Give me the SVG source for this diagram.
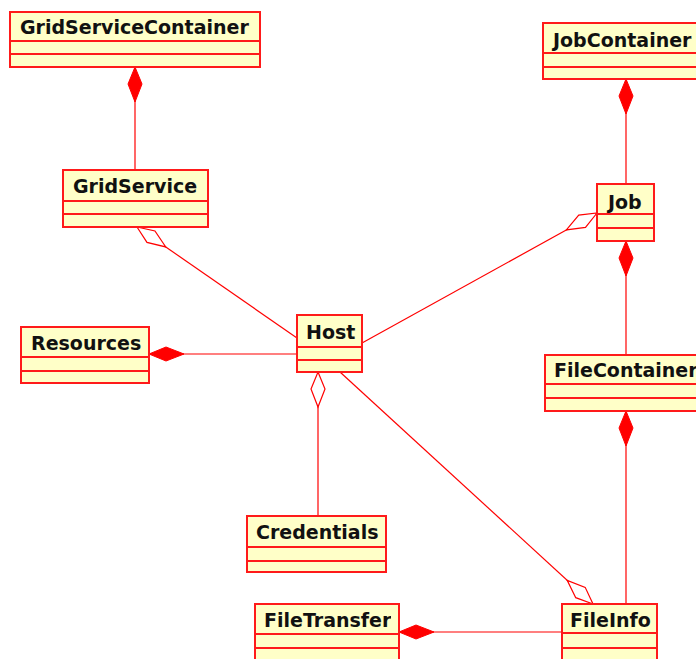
<svg xmlns="http://www.w3.org/2000/svg" width="696" height="659" viewBox="0 0 696 659">
<style>
.box{fill:#FFFFC8;stroke:#FF1A1A;stroke-width:2}
.div{stroke:#FF1A1A;stroke-width:2;fill:none}
.lbl{font-family:"DejaVu Sans",sans-serif;font-weight:bold;font-size:19px;fill:#111}
.con{stroke:#FF0000;stroke-width:1.2;fill:none}
</style>
<defs>
<marker id="comp" markerUnits="userSpaceOnUse" orient="auto" refX="0" refY="0" markerWidth="40" markerHeight="20" viewBox="-1 -10 40 20" overflow="visible">
<path d="M0,0 L17,-7 L35,0 L17,7 Z" fill="#FF0000" stroke="#FF0000" stroke-width="1"/>
</marker>
<marker id="agg" markerUnits="userSpaceOnUse" orient="auto" refX="0" refY="0" markerWidth="40" markerHeight="20" viewBox="-1 -10 40 20" overflow="visible">
<path d="M0,0 L17,-7 L35,0 L17,7 Z" fill="#FFFFFF" stroke="#FF0000" stroke-width="1.2"/>
</marker>
<clipPath id="ftclip"><rect x="255" y="604" width="136" height="60"/></clipPath>
</defs>
<g id="connectors">
<line class="con" x1="135" y1="67" x2="135" y2="170" marker-start="url(#comp)"/>
<line class="con" x1="137" y1="227" x2="297" y2="338" marker-start="url(#agg)"/>
<line class="con" x1="149" y1="354" x2="297" y2="354" marker-start="url(#comp)"/>
<line class="con" x1="597" y1="213" x2="362" y2="343" marker-start="url(#agg)"/>
<line class="con" x1="626" y1="79" x2="626" y2="184" marker-start="url(#comp)"/>
<line class="con" x1="626" y1="241" x2="626" y2="355" marker-start="url(#comp)"/>
<line class="con" x1="626" y1="411" x2="626" y2="604" marker-start="url(#comp)"/>
<line class="con" x1="318" y1="372" x2="318" y2="516" marker-start="url(#agg)"/>
<line class="con" x1="593" y1="604" x2="340" y2="372" marker-start="url(#agg)"/>
<line class="con" x1="399" y1="632" x2="562" y2="632" marker-start="url(#comp)"/>
</g>
<g id="GridServiceContainer">
<rect class="box" x="10" y="12" width="250" height="55"/>
<path class="div" d="M10,41 H260 M10,54 H260"/>
<text class="lbl" x="20" y="34">GridServiceContainer</text>
</g>
<g id="GridService">
<rect class="box" x="63" y="170" width="145" height="57"/>
<path class="div" d="M63,201 H208 M63,214 H208"/>
<text class="lbl" x="73" y="193">GridService</text>
</g>
<g id="JobContainer">
<rect class="box" x="543" y="23" width="170" height="56"/>
<path class="div" d="M543,53 H713 M543,67 H713"/>
<text class="lbl" x="553" y="47">JobContainer</text>
</g>
<g id="Job">
<rect class="box" x="597" y="184" width="57" height="57"/>
<path class="div" d="M597,214 H654 M597,228 H654"/>
<text class="lbl" x="608" y="209">Job</text>
</g>
<g id="Resources">
<rect class="box" x="21" y="327" width="128" height="56"/>
<path class="div" d="M21,357 H149 M21,371 H149"/>
<text class="lbl" x="31" y="350">Resources</text>
</g>
<g id="Host">
<rect class="box" x="297" y="315" width="65" height="57"/>
<path class="div" d="M297,347 H362 M297,360 H362"/>
<text class="lbl" x="306" y="339">Host</text>
</g>
<g id="FileContainer">
<rect class="box" x="545" y="355" width="170" height="56"/>
<path class="div" d="M545,384 H715 M545,398 H715"/>
<text class="lbl" x="554" y="377">FileContainer</text>
</g>
<g id="Credentials">
<rect class="box" x="247" y="516" width="139" height="56"/>
<path class="div" d="M247,547 H386 M247,561 H386"/>
<text class="lbl" x="256" y="539">Credentials</text>
</g>
<g id="FileTransfer">
<rect class="box" x="255" y="604" width="144" height="70"/>
<path class="div" d="M255,634 H399 M255,648 H399"/>
<text class="lbl" x="264" y="627" clip-path="url(#ftclip)">FileTransfer</text>
</g>
<g id="FileInfo">
<rect class="box" x="562" y="604" width="95" height="70"/>
<path class="div" d="M562,633 H657 M562,648 H657"/>
<text class="lbl" x="570" y="627">FileInfo</text>
</g>
</svg>
